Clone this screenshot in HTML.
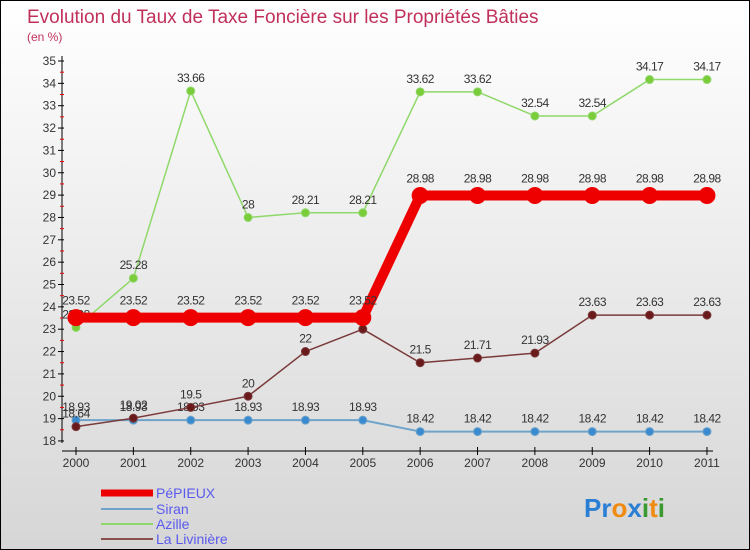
<!DOCTYPE html>
<html><head><meta charset="utf-8"><style>
body{margin:0}
#c{width:748px;height:548px;border:1px solid #000;background:linear-gradient(#fff,#d6d6d6);position:relative;font-family:"Liberation Sans",sans-serif;overflow:hidden}
text{font-family:"Liberation Sans",sans-serif}
</style></head><body>
<div id="c">
<svg id="s" width="748" height="548">
<text x="26" y="22" font-size="19" fill="#c0305a">Evolution du Taux de Taxe Foncière sur les Propriétés Bâties</text>
<text x="26" y="40" font-size="12" fill="#c0305a">(en %)</text>
<g id="axes"></g><g id="series"></g>
<g>
<line x1="100" y1="492" x2="152" y2="492" stroke="#e00" stroke-width="7"/>
<text x="155" y="497" font-size="14" fill="#5a5aee">PéPIEUX</text>
<line x1="100" y1="508" x2="152" y2="508" stroke="#6fa3c9" stroke-width="2"/>
<text x="155" y="513" font-size="14" fill="#5a5aee">Siran</text>
<line x1="100" y1="523" x2="152" y2="523" stroke="#8fd86a" stroke-width="2"/>
<text x="155" y="528" font-size="14" fill="#5a5aee">Azille</text>
<line x1="100" y1="538" x2="152" y2="538" stroke="#8a5050" stroke-width="2"/>
<text x="155" y="543" font-size="14" fill="#5a5aee">La Livinière</text>
</g>
<text x="583" y="516" font-size="26" font-weight="bold"><tspan fill="#2a7fd4">Pr</tspan><tspan fill="#f08a10">o</tspan><tspan fill="#2a7fd4">x</tspan><tspan fill="#3a9a30">i</tspan><tspan fill="#f08a10">t</tspan><tspan fill="#3a9a30">i</tspan></text>
</svg></div>
<script>
const years=["2000","2001","2002","2003","2004","2005","2006","2007","2008","2009","2010","2011"];
const yTicks=[18,19,20,21,22,23,24,25,26,27,28,29,30,31,32,33,34,35];
const pepieux=[23.52,23.52,23.52,23.52,23.52,23.52,28.98,28.98,28.98,28.98,28.98,28.98];
const siran=[18.93,18.93,18.93,18.93,18.93,18.93,18.42,18.42,18.42,18.42,18.42,18.42];
const azille=[23.08,25.28,33.66,28,28.21,28.21,33.62,33.62,32.54,32.54,34.17,34.17];
const liviniere=[18.64,19.02,19.5,20,22,23,21.5,21.71,21.93,23.63,23.63,23.63];
const NS="http://www.w3.org/2000/svg";
function X(i){return 75+i*57.36}
function Y(v){return 60+(35-v)*22.35}
function mk(t,a,p){const e=document.createElementNS(NS,t);for(const k in a)e.setAttribute(k,a[k]);p.appendChild(e);return e}
const ax=document.getElementById('axes');
let l=mk('line',{x1:61,y1:55,x2:61,y2:442,stroke:'#000','stroke-width':1},ax);


l=mk('line',{x1:61,y1:450,x2:712,y2:450,stroke:'#000','stroke-width':1},ax);


yTicks.forEach((v,i)=>{
 mk('line',{x1:57,y1:Y(v),x2:63,y2:Y(v),stroke:'#000'},ax);
 if(i<yTicks.length-1)mk('line',{x1:59,y1:Y(v+0.5),x2:63,y2:Y(v+0.5),stroke:'#e00'},ax);
 const t=mk('text',{x:55,y:Y(v)+4,'font-size':12,fill:'#333','text-anchor':'end'},ax);t.textContent=v;
 
 
});
years.forEach((y,i)=>{
 mk('line',{x1:X(i),y1:446,x2:X(i),y2:454,stroke:'#000'},ax);
 const t=mk('text',{x:X(i),y:466,'font-size':12,fill:'#333','text-anchor':'middle'},ax);t.textContent=y;
 
 
});
const sg=document.getElementById('series');
function series(name,data,color,w,r,mc){
 const g=mk('g',{},sg);
 
 
 const pl=mk('polyline',{points:data.map((v,i)=>X(i)+','+Y(v)).join(' '),fill:'none',stroke:color,'stroke-width':w,'stroke-linejoin':'round'},g);
 
 
 data.forEach((v,i)=>{
  const c=mk('circle',{cx:X(i),cy:Y(v),r:r,fill:mc,stroke:color,'stroke-width':1},g);
  
  
  const t=mk('text',{x:X(i),y:Y(v)-r-5,'font-size':12,fill:'#333','text-anchor':'middle','letter-spacing':'-0.5'},g);
  t.textContent=v;
  
  
 });
}
series('siran',siran,'#6fa3c9',2,4,'#3a8ad0');
series('la-liviniere',liviniere,'#7a3a3a',1.5,4,'#6a1a1a');
series('azille',azille,'#8fd86a',1.5,4,'#7acc3a');
series('pepieux',pepieux,'#e00',10,8,'#e00');
</script>
</body></html>
